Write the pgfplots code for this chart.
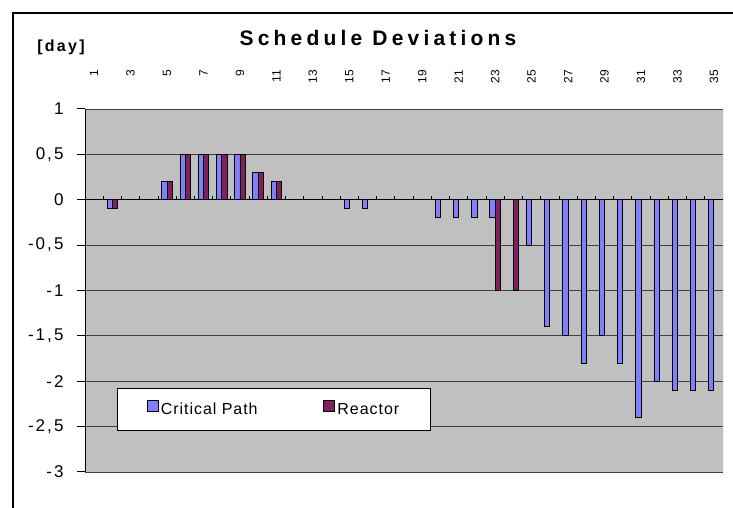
\documentclass[border=0pt]{standalone}
\usepackage{pgfplots}
\pgfplotsset{compat=1.18}
\usepackage{pgfplotstable}
\usepackage{fontspec}
\setmainfont{Liberation Sans}
\definecolor{cpblue}{HTML}{8080FF}
\definecolor{reactor}{HTML}{802060}
\definecolor{plotgray}{HTML}{C0C0C0}

\pgfplotstableread{
x y
2 -0.1
5 0.2
6 0.5
7 0.5
8 0.5
9 0.5
10 0.3
11 0.2
15 -0.1
16 -0.1
20 -0.2
21 -0.2
22 -0.2
23 -0.2
25 -0.5
26 -1.4
27 -1.5
28 -1.8
29 -1.5
30 -1.8
31 -2.4
32 -2.0
33 -2.1
34 -2.1
35 -2.1
}\critical

\pgfplotstableread{
x y
2 -0.1
5 0.2
6 0.5
7 0.5
8 0.5
9 0.5
10 0.3
11 0.2
23 -1.0
24 -1.0
}\reactortab

\begin{document}
\begin{tikzpicture}[x=1bp,y=1bp]
\useasboundingbox (0,0) rectangle (733,508);
\fill[white] (0,0) rectangle (733,508);
\draw[line width=1.3bp] (13,0) -- (13,495) -- (733,495);
\node[font=\fontsize{21bp}{24bp}\selectfont\bfseries\addfontfeature{LetterSpace=20}, anchor=base] at (378,462) {Schedule Deviations};
\node[font=\fontsize{16bp}{19bp}\selectfont\bfseries\addfontfeature{LetterSpace=14}, anchor=center] at (61,461) {[day]};
\begin{axis}[
  at={(85bp,36bp)}, anchor=south west, scale only axis,
  width=638bp, height=363bp,
  xmin=0.5, xmax=35.5, ymin=-3, ymax=1,
  axis background/.style={fill=plotgray},
  ybar,
  legend image code/.code={\draw[#1, line width=0.8bp] (0bp,-2bp) rectangle (11bp,9bp);},
  axis y line*=left,
  x axis line style={draw=none},
  y axis line style={black, line width=1bp},
  xtick={1,3,...,35}, xticklabel pos=right, xtick style={draw=none},
  xticklabel style={rotate=90, anchor=east, font=\fontsize{12bp}{14bp}\selectfont\addfontfeature{LetterSpace=8}},
  xticklabel shift=35bp,
  ytick={-3,-2.5,-2,-1.5,-1,-0.5,0,0.5,1},
  ytick pos=left, ytick align=outside, major tick length=8bp,
  ytick style={black, line width=1bp},
  yticklabel shift=10bp,
  yticklabel style={font=\fontsize{17bp}{20bp}\selectfont\addfontfeature{LetterSpace=12}, /pgf/number format/use comma},
  /pgf/number format/assume math mode=true,
  ymajorgrids, grid style={black!75, line width=0.8bp},
  legend columns=2,
  legend style={at={(0.0502,0.2314)}, anchor=north west, draw=black, line width=1bp, fill=white,
    inner xsep=29bp, inner ysep=12bp,
    font=\fontsize{16bp}{19bp}\selectfont\addfontfeature{LetterSpace=6},
    nodes={inner xsep=2.5bp, inner ysep=2bp},
    /tikz/every even column/.append style={column sep=63bp}},
  legend cell align=left,
]
\addplot[fill=cpblue, draw=black, line width=0.8bp, bar width=0.29, bar shift=-0.145] table[x=x,y=y] {\critical};
\addlegendentry{Critical Path}
\addplot[fill=reactor, draw=black, line width=0.8bp, bar width=0.29, bar shift=0.145] table[x=x,y=y] {\reactortab};
\addlegendentry{Reactor}
\draw[black, line width=1.3bp] (axis cs:0.5,0) -- (axis cs:35.5,0);
\pgfplotsinvokeforeach{1.5,2.5,...,34.5}{\draw[black, line width=0.8bp] (axis cs:#1,0) -- ++(0pt,4bp);}
\draw[gray, line width=1bp] (rel axis cs:1,0) -- (rel axis cs:1,1);
\end{axis}
\end{tikzpicture}
\end{document}
